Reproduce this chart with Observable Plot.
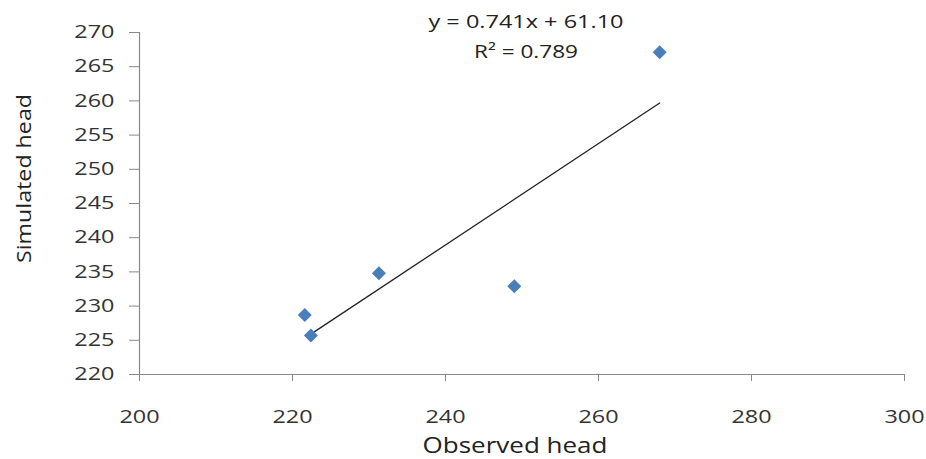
<!DOCTYPE html>
<html>
<head>
<meta charset="utf-8">
<script src="https://cdn.jsdelivr.net/npm/d3@7"></script>
<script src="https://cdn.jsdelivr.net/npm/@observablehq/plot@0.6"></script>
<style>
  html, body { margin: 0; padding: 0; background: #fff; }
</style>
</head>
<body>
<div id="chart"></div>
<script>
const observed = [221.6, 222.4, 231.3, 249.0, 268.0];
const simulated = [228.7, 225.7, 234.8, 232.9, 267.1];
const xTicks = [200, 220, 240, 260, 280, 300];
const yTicks = [220, 225, 230, 235, 240, 245, 250, 255, 260, 265, 270];
const slope = 0.741;
const intercept = 61.10;
const trendXRange = [222.6, 268.0];
const equationText = "y = 0.741x + 61.10";
const r2Text = "R² = 0.789";
const xLabel = "Observed head";
const yLabel = "Simulated head";

const points = observed.map((x, i) => ({x, y: simulated[i]}));
const trend = trendXRange.map(x => ({x, y: slope * x + intercept}));

const chart = Plot.plot({
  width: 926,
  height: 459,
  marginLeft: 139,
  marginRight: 22,
  marginTop: 32,
  marginBottom: 85,
  x: {domain: [200, 300]},
  y: {domain: [220, 270]},
  style: {fontFamily: "'Open Sans', sans-serif", fontSize: "18px", color: "#222", background: "#fff"},
  marks: [
    Plot.ruleY([220], {stroke: "#888", strokeWidth: 1.2}),
    Plot.ruleX([200], {stroke: "#888", strokeWidth: 1.2}),
    Plot.axisX({ticks: xTicks, tickSize: 7, tickPadding: 29, stroke: "#888", fill: "#333", label: null, tickFormat: d => String(d), className: "ticklab"}),
    Plot.axisY({ticks: yTicks, tickSize: 10, tickPadding: 15, stroke: "#888", fill: "#333", label: null, tickFormat: d => String(d), className: "ticklab"}),
    Plot.line(trend, {x: "x", y: "y", stroke: "#222", strokeWidth: 1.3}),
    Plot.dot(points, {x: "x", y: "y", symbol: "diamond2", r: 6.3, fill: "#4a7ebb", stroke: "none"}),
    Plot.text([xLabel], {text: d => d, frameAnchor: "bottom", dx: -7, dy: 78, fontSize: 21, fill: "#222", className: "xtitle"}),
    Plot.text([yLabel], {text: d => d, frameAnchor: "left", textAnchor: "middle", rotate: -90, dx: -115, dy: -25, fontSize: 20, fill: "#222", className: "ytitle"}),
    Plot.text([equationText], {text: d => d, frameAnchor: "top", dx: 4, dy: -17, fontSize: 18, fill: "#222", className: "eq1"}),
    Plot.text([r2Text], {text: d => d, frameAnchor: "top", dx: 4, dy: 13, fontSize: 18, fill: "#222", className: "eq2"})
  ]
});
document.getElementById("chart").appendChild(chart);

// Reference text appears horizontally stretched: widen glyphs to match
function stretch(selector, fn) {
  chart.querySelectorAll(selector).forEach(t => {
    const w = t.getComputedTextLength();
    if (w > 0) {
      t.setAttribute("textLength", fn(w));
      t.setAttribute("lengthAdjust", "spacingAndGlyphs");
    }
  });
}
stretch(".ticklab text", w => w * 1.3);
stretch(".xtitle text", w => 185);
stretch(".ytitle text", w => 169);
stretch(".eq1 text", w => 195);
stretch(".eq2 text", w => 104);
</script>
</body>
</html>
